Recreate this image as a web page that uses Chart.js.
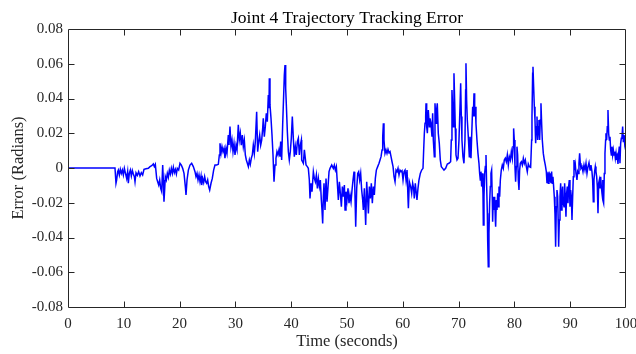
<!DOCTYPE html>
<html>
<head>
<meta charset="utf-8">
<script src="https://cdn.jsdelivr.net/npm/chart.js@4/dist/chart.umd.min.js"></script>
<style>
html, body { margin: 0; padding: 0; background: #ffffff; }
canvas { display: block; }
</style>
</head>
<body>
<canvas id="c" width="636" height="354"></canvas>
<script>
const chartTitle = 'Joint 4 Trajectory Tracking Error';
const xAxisTitle = 'Time (seconds)';
const yAxisTitle = 'Error (Radians)';

const xTickValues = [0, 10, 20, 30, 40, 50, 60, 70, 80, 90, 100];
const xTickLabels = ['0', '10', '20', '30', '40', '50', '60', '70', '80', '90', '100'];
const yTickValues = [-0.08, -0.06, -0.04, -0.02, 0, 0.02, 0.04, 0.06, 0.08];
const yTickLabels = ['-0.08', '-0.06', '-0.04', '-0.02', '0', '0.02', '0.04', '0.06', '0.08'];

// Time (s) of each sample
const timeSec = [
  0, 8.42, 8.6, 8.72, 8.9, 9.02, 9.2, 9.38, 9.56, 9.74,
  9.92, 10.1, 10.27, 10.51, 10.69, 10.81, 10.99, 11.17, 11.35, 11.53,
  11.71, 11.89, 12.01, 12.19, 12.43, 12.66, 12.9, 13.14, 13.38, 13.62,
  13.98, 14.4, 14.7, 15.0, 15.29, 15.47, 15.65, 15.89, 16.07, 16.25,
  16.43, 16.61, 16.79, 16.97, 17.08, 17.2, 17.32, 17.44, 17.62, 17.8,
  17.98, 18.16, 18.34, 18.52, 18.7, 18.88, 19.06, 19.24, 19.42, 19.59,
  19.83, 20.07, 20.31, 20.55, 20.79, 21.03, 21.15, 21.33, 21.57, 21.86,
  22.16, 22.46, 22.76, 22.94, 23.12, 23.3, 23.48, 23.66, 23.84, 23.96,
  24.13, 24.31, 24.49, 24.67, 24.85, 25.03, 25.21, 25.39, 25.63, 25.86,
  26.1, 26.34, 26.64, 26.94, 27.12, 27.24, 27.42, 27.6, 27.78, 27.96,
  28.13, 28.31, 28.49, 28.73, 28.85, 29.03, 29.21, 29.39, 29.57, 29.75,
  29.93, 30.11, 30.29, 30.52, 30.7, 30.88, 31.06, 31.24, 31.42, 31.6,
  31.78, 31.96, 32.14, 32.32, 32.5, 32.67, 32.85, 33.03, 33.21, 33.39,
  33.57, 33.81, 33.99, 34.17, 34.35, 34.53, 34.71, 34.89, 35.0, 35.18,
  35.36, 35.54, 35.72, 35.9, 36.02, 36.08, 36.2, 36.38, 36.56, 36.74,
  36.92, 37.1, 37.27, 37.45, 37.63, 37.81, 37.99, 38.11, 38.29, 38.47,
  38.65, 38.77, 38.89, 39.01, 39.13, 39.31, 39.49, 39.66, 39.84, 40.02,
  40.2, 40.38, 40.56, 40.74, 40.92, 41.1, 41.28, 41.46, 41.64, 41.82,
  41.88, 42.18, 42.36, 42.66, 42.89, 43.07, 43.25, 43.37, 43.55, 43.73,
  43.97, 44.15, 44.33, 44.51, 44.69, 44.87, 45.05, 45.22, 45.4, 45.52,
  45.64, 45.76, 45.88, 46.06, 46.24, 46.42, 46.6, 46.78, 46.96, 47.26,
  47.55, 47.73, 47.91, 48.09, 48.27, 48.45, 48.63, 48.81, 48.99, 49.17,
  49.35, 49.53, 49.65, 49.82, 50.0, 50.18, 50.36, 50.54, 50.72, 50.9,
  51.08, 51.26, 51.38, 51.56, 51.74, 51.92, 52.09, 52.27, 52.45, 52.63,
  52.81, 52.93, 53.11, 53.35, 53.53, 53.71, 53.83, 54.01, 54.19, 54.36,
  54.54, 54.72, 54.9, 55.08, 55.26, 55.5, 55.74, 55.92, 56.1, 56.28,
  56.4, 56.52, 56.63, 56.81, 56.99, 57.17, 57.35, 57.53, 57.71, 57.89,
  58.07, 58.25, 58.43, 58.61, 58.79, 58.97, 59.14, 59.32, 59.5, 59.68,
  59.86, 60.04, 60.22, 60.4, 60.58, 60.76, 60.94, 61.0, 61.17, 61.41,
  61.59, 61.77, 61.94, 62.06, 62.24, 62.42, 62.54, 62.72, 62.9, 63.14,
  63.38, 63.62, 63.74, 63.86, 63.98, 64.1, 64.16, 64.28, 64.4, 64.57,
  64.75, 64.87, 65.05, 65.23, 65.35, 65.47, 65.65, 65.77, 65.95, 66.06,
  66.18, 66.36, 66.54, 66.72, 66.9, 67.14, 67.38, 67.68, 67.98, 68.27,
  68.57, 68.69, 68.81, 68.93, 69.05, 69.17, 69.29, 69.41, 69.53, 69.71,
  69.89, 70.07, 70.25, 70.37, 70.49, 70.6, 70.78, 70.96, 71.14, 71.26,
  71.32, 71.44, 71.56, 71.74, 71.92, 72.04, 72.22, 72.34, 72.52, 72.64,
  72.76, 72.88, 73.0, 73.11, 73.29, 73.47, 73.65, 73.77, 73.89, 74.01,
  74.13, 74.25, 74.37, 74.43, 74.55, 74.67, 74.79, 74.91, 75.03, 75.15,
  75.21, 75.32, 75.44, 75.56, 75.68, 75.8, 75.92, 76.04, 76.1, 76.22,
  76.34, 76.46, 76.58, 76.64, 76.76, 76.88, 77.0, 77.12, 77.24, 77.36,
  77.48, 77.65, 77.83, 78.01, 78.19, 78.37, 78.55, 78.73, 78.91, 79.09,
  79.27, 79.45, 79.63, 79.75, 79.86, 79.98, 80.1, 80.22, 80.34, 80.46,
  80.58, 80.7, 80.82, 80.94, 81.06, 81.24, 81.42, 81.6, 81.78, 81.96,
  82.14, 82.31, 82.49, 82.67, 82.91, 83.09, 83.15, 83.27, 83.33, 83.45,
  83.57, 83.69, 83.81, 83.93, 84.05, 84.17, 84.29, 84.4, 84.52, 84.64,
  84.76, 84.88, 85.0, 85.18, 85.36, 85.54, 85.72, 85.84, 85.96, 86.08,
  86.2, 86.31, 86.43, 86.55, 86.67, 86.79, 86.91, 87.03, 87.15, 87.27,
  87.39, 87.51, 87.63, 87.75, 87.87, 87.93, 88.05, 88.17, 88.29, 88.41,
  88.53, 88.65, 88.77, 88.89, 89.0, 89.12, 89.24, 89.36, 89.48, 89.6,
  89.72, 89.84, 89.96, 90.08, 90.2, 90.32, 90.44, 90.56, 90.68, 90.8,
  90.92, 91.04, 91.21, 91.33, 91.45, 91.57, 91.69, 91.81, 91.93, 92.11,
  92.29, 92.47, 92.65, 92.83, 93.01, 93.19, 93.37, 93.55, 93.72, 93.9,
  94.02, 94.14, 94.26, 94.38, 94.5, 94.62, 94.74, 94.86, 94.98, 95.1,
  95.22, 95.34, 95.46, 95.58, 95.7, 95.81, 95.87, 95.99, 96.11, 96.23,
  96.35, 96.41, 96.53, 96.65, 96.77, 96.89, 97.01, 97.13, 97.25, 97.37,
  97.49, 97.61, 97.73, 97.85, 97.97, 98.09, 98.21, 98.33, 98.45, 98.56,
  98.68, 98.8, 98.92, 99.04, 99.16, 99.28, 99.4, 99.52, 99.64, 99.76,
  99.88, 100
];

// Tracking error (rad) of each sample
const errorRad = [
  0, 0, -0.0088, -0.0069, -0.0021, -0.0012, -0.0040, -0.0008, -0.0031, -0.0012,
  -0.0040, -0.0002, -0.0027, -0.0060, -0.0021, -0.0088, -0.0031, -0.0012, -0.0046, -0.0015,
  -0.0035, -0.0050, -0.0079, -0.0027, -0.0042, -0.0021, -0.0046, -0.0027, -0.0040, -0.0008,
  -0.0004, -0.0002, 0.0008, 0.0013, 0.0023, 0.0008, 0.0021, -0.0060, -0.0079, -0.0098,
  -0.0069, -0.0117, -0.0136, 0.0017, -0.0069, -0.0194, -0.0127, -0.0050, -0.0069, -0.0031,
  -0.0054, -0.0012, -0.0035, -0.0002, -0.0031, 0.0004, -0.0027, -0.0008, -0.0035, -0.0002,
  -0.0012, 0.0027, 0.0017, -0.0002, -0.0031, -0.0107, -0.0155, -0.0069, -0.0012, 0.0017,
  0.0027, 0.0008, -0.0021, -0.0050, -0.0031, -0.0069, -0.0040, -0.0079, -0.0046, -0.0098,
  -0.0060, -0.0084, -0.0050, -0.0079, -0.0088, -0.0069, -0.0107, -0.0127, -0.0088, -0.0060,
  -0.0012, 0.0017, 0.0017, 0.0021, 0.0075, 0.0142, 0.0084, 0.0123, 0.0094, 0.0113,
  0.0056, 0.0113, 0.0084, 0.0190, 0.0132, 0.0238, 0.0123, 0.0161, 0.0094, 0.0142,
  0.0075, 0.0132, 0.0104, 0.0248, 0.0161, 0.0200, 0.0132, 0.0190, 0.0123, 0.0161,
  0.0075, 0.0046, 0.0027, 0.0008, 0.0046, 0.0021, 0.0056, 0.0075, 0.0132, 0.0084,
  0.0152, 0.0324, 0.0094, 0.0152, 0.0190, 0.0132, 0.0161, 0.0228, 0.0286, 0.0180,
  0.0238, 0.0315, 0.0267, 0.0420, 0.0344, 0.0516, 0.0363, 0.0286, 0.0190, 0.0075,
  -0.0079, 0.0017, 0.0056, 0.0094, 0.0075, 0.0104, 0.0065, 0.0152, 0.0046, 0.0248,
  0.0420, 0.0536, 0.0593, 0.0459, 0.0363, 0.0209, 0.0094, 0.0046, 0.0094, 0.0171,
  0.0296, 0.0171, 0.0065, 0.0123, 0.0075, 0.0152, 0.0171, 0.0075, 0.0132, 0.0161,
  0.0046, 0.0027, 0.0104, 0.0017, 0.0008, -0.0002, -0.0069, -0.0175, -0.0088, -0.0136,
  -0.0021, -0.0060, -0.0079, -0.0040, -0.0117, -0.0060, -0.0107, -0.0069, -0.0184, -0.0242,
  -0.0319, -0.0165, -0.0088, -0.0242, -0.0060, -0.0194, -0.0107, -0.0021, -0.0002, 0.0017,
  -0.0002, 0.0017, -0.0012, 0.0008, -0.0088, -0.0184, -0.0079, -0.0146, -0.0223, -0.0107,
  -0.0165, -0.0098, -0.0242, -0.0136, -0.0184, -0.0117, -0.0203, -0.0155, -0.0194, -0.0127,
  -0.0069, -0.0021, -0.0088, -0.0338, -0.0117, -0.0031, -0.0021, -0.0069, -0.0031, -0.0127,
  -0.0184, -0.0242, -0.0117, -0.0328, -0.0079, -0.0184, -0.0261, -0.0107, -0.0175, -0.0088,
  -0.0203, -0.0107, -0.0155, -0.0060, -0.0012, 0.0008, 0.0027, 0.0046, 0.0065, 0.0104,
  0.0180, 0.0257, 0.0161, 0.0084, 0.0104, 0.0084, 0.0107, 0.0088, 0.0094, 0.0065,
  0.0036, 0.0008, -0.0050, -0.0079, -0.0012, -0.0021, -0.0002, -0.0040, -0.0012, -0.0021,
  -0.0015, -0.0069, -0.0021, -0.0012, -0.0069, -0.0012, -0.0184, -0.0232, -0.0079, -0.0107,
  -0.0146, -0.0088, -0.0117, -0.0175, -0.0088, -0.0146, -0.0184, -0.0117, -0.0069, -0.0031,
  -0.0012, -0.0002, 0.0104, 0.0200, 0.0257, 0.0296, 0.0372, 0.0238, 0.0200, 0.0334,
  0.0238, 0.0286, 0.0257, 0.0180, 0.0315, 0.0161, 0.0065, 0.0372, 0.0257, 0.0334,
  0.0372, 0.0200, 0.0142, 0.0046, 0.0008, -0.0002, -0.0012, -0.0002, 0.0023, 0.0027,
  0.0036, 0.0161, 0.0449, 0.0353, 0.0238, 0.0545, 0.0392, 0.0228, 0.0075, 0.0046,
  0.0056, 0.0161, 0.0353, 0.0488, 0.0296, 0.0161, 0.0065, 0.0027, 0.0161, 0.0449,
  0.0603, 0.0392, 0.0276, 0.0180, 0.0065, 0.0180, 0.0056, 0.0180, 0.0353, 0.0296,
  0.0430, 0.0296, 0.0353, 0.0257, 0.0161, 0.0084, 0.0027, -0.0031, -0.0069, -0.0021,
  -0.0107, -0.0031, -0.0146, -0.0328, -0.0165, -0.0031, 0.0008, 0.0075, -0.0107, -0.0261,
  -0.0415, -0.0568, -0.0376, -0.0203, -0.0107, -0.0031, -0.0012, -0.0184, -0.0309, -0.0165,
  -0.0242, -0.0165, -0.0299, -0.0338, -0.0184, -0.0242, -0.0146, -0.0223, -0.0107, -0.0165,
  -0.0069, -0.0012, 0.0017, -0.0002, 0.0046, 0.0056, 0.0036, 0.0075, 0.0017, 0.0065,
  0.0046, 0.0094, 0.0056, 0.0123, 0.0228, 0.0161, 0.0008, -0.0079, 0.0008, 0.0123,
  0.0075, -0.0069, -0.0127, -0.0012, 0.0027, 0.0036, 0.0017, 0.0056, 0.0027, 0.0046,
  0.0008, -0.0021, 0.0023, 0.0008, 0.0004, 0.0161, 0.0296, 0.0545, 0.0583, 0.0468,
  0.0353, 0.0276, 0.0142, 0.0238, 0.0296, 0.0161, 0.0238, 0.0276, 0.0161, 0.0276,
  0.0372, 0.0257, 0.0161, 0.0084, 0.0046, 0.0017, -0.0021, -0.0088, -0.0031, -0.0088,
  -0.0021, -0.0079, -0.0031, -0.0088, -0.0021, -0.0088, -0.0050, -0.0107, -0.0165, -0.0261,
  -0.0453, -0.0223, -0.0127, -0.0165, -0.0338, -0.0453, -0.0299, -0.0165, -0.0088, -0.0242,
  -0.0146, -0.0107, -0.0203, -0.0223, -0.0088, -0.0165, -0.0280, -0.0146, -0.0107, -0.0203,
  -0.0107, -0.0069, -0.0223, -0.0127, -0.0165, -0.0299, -0.0165, -0.0050, 0.0046, -0.0012,
  0.0017, -0.0031, -0.0069, -0.0021, -0.0031, 0.0027, 0.0084, 0.0027, -0.0002, 0.0008,
  -0.0021, 0.0017, -0.0012, 0.0027, -0.0031, 0.0008, 0.0031, -0.0012, 0.0017, -0.0021,
  -0.0069, -0.0194, -0.0069, -0.0021, 0.0008, -0.0021, -0.0050, -0.0107, -0.0261, -0.0088,
  -0.0069, -0.0117, -0.0050, -0.0107, -0.0146, -0.0069, -0.0184, -0.0203, -0.0031, 0.0084,
  0.0161, 0.0200, 0.0161, 0.0238, 0.0334, 0.0200, 0.0161, 0.0180, 0.0104, 0.0075,
  0.0123, 0.0075, 0.0104, 0.0075, 0.0094, 0.0056, 0.0084, 0.0046, 0.0065, 0.0023,
  0.0084, 0.0123, 0.0027, 0.0142, 0.0171, 0.0180, 0.0238, 0.0152, 0.0190, 0.0142,
  0.0171, 0.0120
];

const FONT = '"Liberation Serif", "Times New Roman", serif';
const AXIS_COLOR = '#262626';

const points = timeSec.map((t, i) => ({ x: t, y: errorRad[i] }));

// Title + MATLAB-style box with inward ticks
const framePlugin = {
  id: 'frame',
  afterDraw(chart) {
    const { ctx, chartArea: a, scales: { x, y } } = chart;
    ctx.save();
    ctx.strokeStyle = AXIS_COLOR;
    ctx.lineWidth = 1;
    const L = Math.round(a.left) + 0.5;
    const R = Math.round(a.right) - 0.5;
    const T = Math.round(a.top) + 0.5;
    const B = Math.round(a.bottom) + 0.5;
    ctx.beginPath();
    ctx.moveTo(L, T); ctx.lineTo(R, T); ctx.lineTo(R, B); ctx.lineTo(L, B); ctx.closePath();
    const tl = 6;
    xTickValues.forEach((v, i) => {
      if (i === 0 || i === xTickValues.length - 1) return;
      const px = Math.round(x.getPixelForValue(v)) + 0.5;
      ctx.moveTo(px, B); ctx.lineTo(px, B - tl);
      ctx.moveTo(px, T); ctx.lineTo(px, T + tl);
    });
    yTickValues.forEach((v, i) => {
      if (i === 0 || i === yTickValues.length - 1) return;
      const py = Math.round(y.getPixelForValue(v)) + 0.5;
      ctx.moveTo(L, py); ctx.lineTo(L + tl, py);
      ctx.moveTo(R, py); ctx.lineTo(R - tl, py);
    });
    ctx.stroke();

    ctx.fillStyle = '#000000';
    ctx.font = '17.5px ' + FONT;
    ctx.textAlign = 'center';
    ctx.textBaseline = 'alphabetic';
    ctx.fillText(chartTitle, (a.left + a.right) / 2, 23);
    ctx.restore();
  }
};

new Chart(document.getElementById('c'), {
  type: 'line',
  data: {
    datasets: [{
      data: points,
      borderColor: '#0000ff',
      borderWidth: 1.5,
      pointRadius: 0,
      tension: 0,
      fill: false
    }]
  },
  options: {
    responsive: false,
    animation: false,
    devicePixelRatio: 1,
    parsing: false,
    normalized: true,
    layout: { padding: { top: 29, right: 10, bottom: 0, left: 0 } },
    plugins: {
      legend: { display: false },
      title: { display: false },
      tooltip: { enabled: false }
    },
    scales: {
      x: {
        type: 'linear',
        position: 'bottom',
        min: 0,
        max: 100,
        grid: { display: false, drawTicks: false },
        border: { display: false },
        ticks: {
          padding: 8,
          autoSkip: false,
          maxRotation: 0,
          color: AXIS_COLOR,
          font: { family: FONT, size: 15 },
          callback: (v, i) => xTickLabels[i]
        },
        title: {
          display: true,
          text: xAxisTitle,
          color: AXIS_COLOR,
          font: { family: FONT, size: 16.5 },
          padding: { top: 0, bottom: 2 }
        },
        afterBuildTicks: s => { s.ticks = xTickValues.map(v => ({ value: v })); },
        afterFit: s => { s.height = 47; s.paddingLeft = 0; s.paddingRight = 0; }
      },
      y: {
        type: 'linear',
        position: 'left',
        min: -0.08,
        max: 0.08,
        grid: { display: false, drawTicks: false },
        border: { display: false },
        ticks: {
          padding: 5,
          autoSkip: false,
          color: AXIS_COLOR,
          font: { family: FONT, size: 15 },
          callback: (v, i) => yTickLabels[i]
        },
        title: {
          display: true,
          text: yAxisTitle,
          color: AXIS_COLOR,
          font: { family: FONT, size: 16.5 },
          padding: { top: 9, bottom: 0 }
        },
        afterBuildTicks: s => { s.ticks = yTickValues.map(v => ({ value: v })); },
        afterFit: s => { s.width = 68; s.paddingTop = 0; s.paddingBottom = 0; }
      }
    }
  },
  plugins: [framePlugin]
});
</script>
</body>
</html>
